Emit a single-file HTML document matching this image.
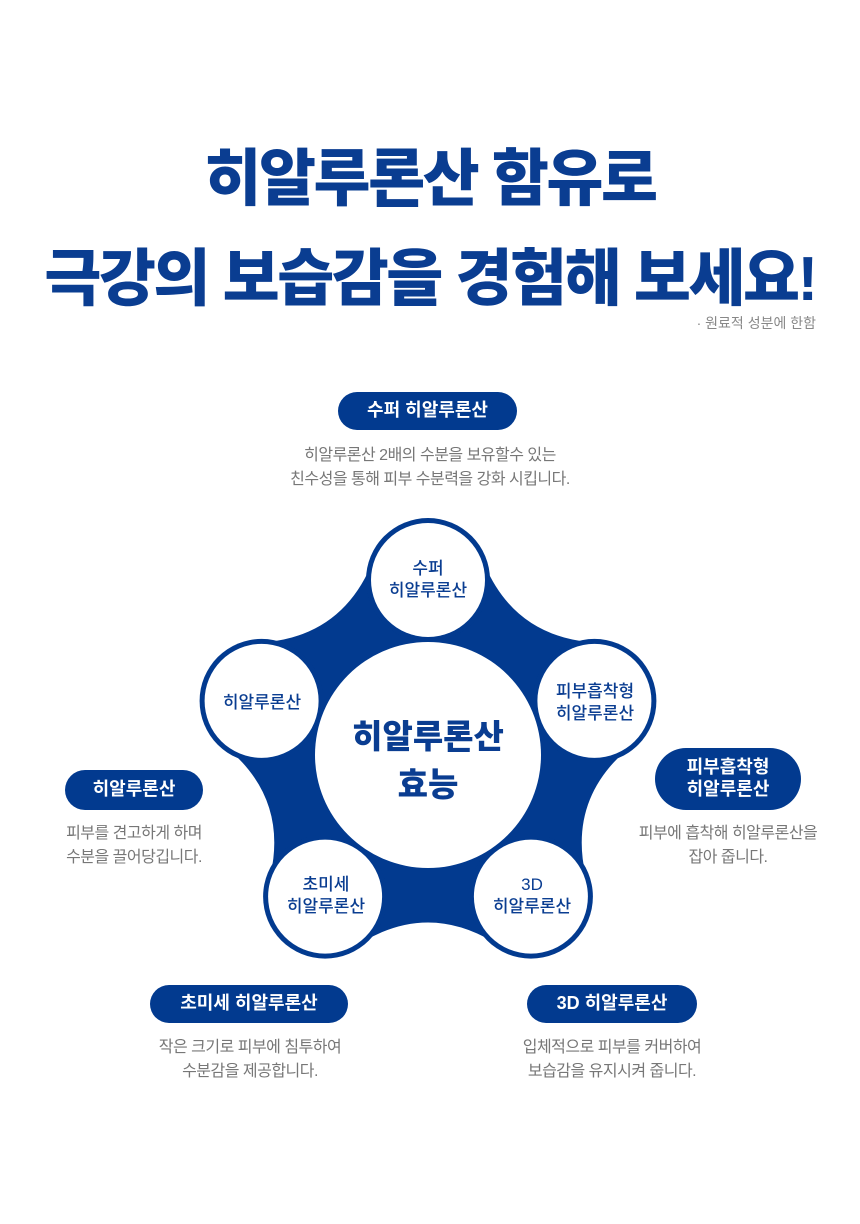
<!DOCTYPE html>
<html><head><meta charset="utf-8"><style>
body{margin:0;width:860px;height:1224px;background:#fff;position:relative;font-family:"Liberation Sans","Noto Sans CJK KR",sans-serif;overflow:hidden}
.t{position:absolute;left:0;width:860px;text-align:center;color:#0a3d91;font-weight:900;font-size:62px;letter-spacing:-2.5px}
.pill{position:absolute;background:#023a8f;color:#fff;font-weight:bold;font-size:18px;border-radius:20px;text-align:center;display:flex;align-items:center;justify-content:center;line-height:1.2}
.d{position:absolute;color:#777;font-size:16px;text-align:center;line-height:24px;letter-spacing:-0.5px}
</style></head><body>
<div class="t" style="top:128px">히알루론산 함유로</div>
<div class="t" style="top:228px">극강의 보습감을 경험해 보세요!</div>
<div style="position:absolute;right:44px;top:313px;color:#888;font-size:14px">· 원료적 성분에 한함</div>

<div class="pill" style="left:338px;top:392px;width:179px;height:38px">수퍼 히알루론산</div>
<div class="d" style="left:230px;top:444px;width:400px">히알루론산 2배의 수분을 보유할수 있는<br>친수성을 통해 피부 수분력을 강화 시킵니다.</div>

<div class="pill" style="left:65px;top:770px;width:138px;height:40px">히알루론산</div>
<div class="d" style="left:34px;top:822px;width:200px">피부를 견고하게 하며<br>수분을 끌어당깁니다.</div>

<div class="pill" style="left:655px;top:748px;width:146px;height:62px;border-radius:31px">피부흡착형<br>히알루론산</div>
<div class="d" style="left:618px;top:822px;width:220px">피부에 흡착해 히알루론산을<br>잡아 줍니다.</div>

<div class="pill" style="left:150px;top:985px;width:198px;height:38px">초미세 히알루론산</div>
<div class="d" style="left:130px;top:1036px;width:240px">작은 크기로 피부에 침투하여<br>수분감을 제공합니다.</div>

<div class="pill" style="left:527px;top:985px;width:170px;height:38px">3D 히알루론산</div>
<div class="d" style="left:492px;top:1036px;width:240px">입체적으로 피부를 커버하여<br>보습감을 유지시켜 줍니다.</div>

<svg style="position:absolute;left:0;top:0" width="860" height="1224">
<g fill="#023a8f">
<path d="M484.9,565.4 Q515,635.3 590.8,642.3 L625.9,750.5 Q568.8,800.7 585.5,875 L493.4,941.9 Q428,903 362.6,941.9 L270.5,875 Q287.2,800.7 230.1,750.5 L265.2,642.3 Q341,635.3 371.1,565.4 Z"/>
<circle cx="428" cy="580" r="62"/><circle cx="594.4" cy="700.9" r="62"/><circle cx="530.9" cy="896.6" r="62"/><circle cx="325.1" cy="896.6" r="62"/><circle cx="261.6" cy="700.9" r="62"/>
</g>
<g fill="#fff">
<circle cx="428" cy="755" r="113"/>
<circle cx="428" cy="580" r="57"/><circle cx="594.4" cy="700.9" r="57"/><circle cx="530.9" cy="896.6" r="57"/><circle cx="325.1" cy="896.6" r="57"/><circle cx="261.6" cy="700.9" r="57"/>
</g>
<g fill="#0a3d91" font-family="Liberation Sans,Noto Sans CJK KR,sans-serif" text-anchor="middle" font-size="17" font-weight="500">
<text x="428" y="574">수퍼</text><text x="428" y="596">히알루론산</text>
<text x="262" y="708">히알루론산</text>
<text x="595" y="697">피부흡착형</text><text x="595" y="719">히알루론산</text>
<text x="326" y="890">초미세</text><text x="326" y="912">히알루론산</text>
<text x="532" y="890">3D</text><text x="532" y="912">히알루론산</text>
<text x="428" y="748" font-size="33" font-weight="900">히알루론산</text>
<text x="428" y="796" font-size="33" font-weight="900">효능</text>
</g>
</svg>
</body></html>
